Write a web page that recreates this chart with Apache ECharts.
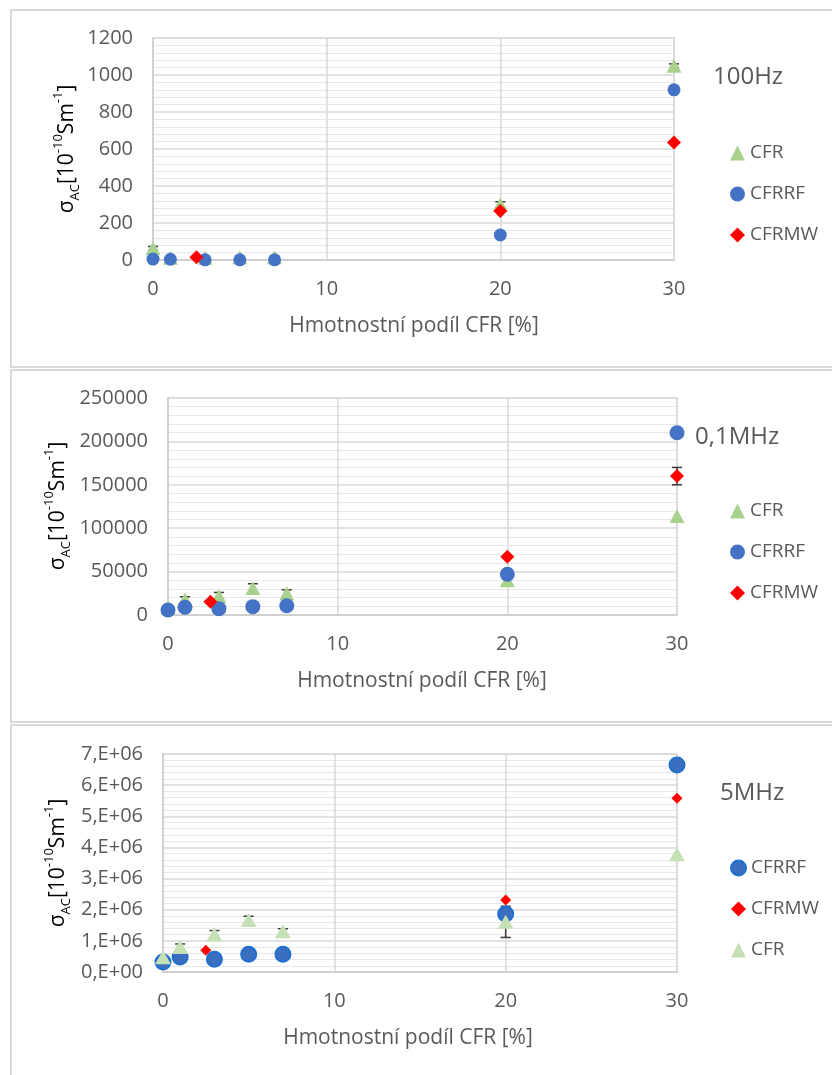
<!DOCTYPE html>
<html>
<head>
<meta charset="utf-8">
<script src="https://cdn.jsdelivr.net/npm/echarts@6/dist/echarts.min.js"></script>
<style>
  html, body { margin: 0; padding: 0; background: #fff; }
  #chart { width: 832px; height: 1075px; }
</style>
</head>
<body>
<div id="chart"></div>
<script>
// CFR mass fraction [%] for the CFR / CFRRF series and the CFRMW series
const xMain = [0, 1, 3, 5, 7, 20, 30];
const xMW = [2.5, 20, 30];

// 100 Hz
const hz100CFR = [63, 12, 12, 15, 15, 300, 1050];
const hz100CFRerr = [10, 0, 0, 0, 0, 15, 10];
const hz100RF = [5, 4, 1, 1, 1, 135, 920];
const hz100MW = [15, 265, 635];

// 0,1 MHz
const mhz01CFR = [8000, 18000, 22000, 31000, 25000, 40000, 114000];
const mhz01CFRerr = [0, 3000, 4000, 5000, 4000, 0, 0];
const mhz01RF = [5800, 8900, 7300, 9600, 10700, 47000, 210000];
const mhz01MW = [15300, 67000, 160000];
const mhz01MWerr = [0, 0, 10000];

// 5 MHz
const mhz5RF = [0.32e6, 0.48e6, 0.41e6, 0.57e6, 0.57e6, 1.86e6, 6.65e6];
const mhz5MW = [0.70e6, 2.31e6, 5.58e6];
const mhz5CFR = [0.47e6, 0.80e6, 1.21e6, 1.67e6, 1.31e6, 1.61e6, 3.78e6];
const mhz5CFRerr = [0, 0.1e6, 0.12e6, 0.12e6, 0.08e6, 0.5e6, 0];

// axis ranges / tick steps
const yMax = [1200, 250000, 7e6];
const yStep = [200, 50000, 1e6];
const panelLabels = ['100Hz', '0,1MHz', '5MHz'];

const FONT = 'Open Sans';
const TXT = '#595959';
const GREEN = '#a9d18e', GREEN_LIGHT = '#c5e0b4', BLUE = '#4472c4', RED = '#ff0000';

const pairs = (xs, ys) => xs.map((x, i) => [x, ys[i]]);
const errPairs = (xs, ys, es) => xs.map((x, i) => [x, ys[i], es[i]]).filter(d => d[2] > 0);

const grids = [
  { left: 153, top: 38, width: 521, height: 222 },
  { left: 168, top: 398, width: 509, height: 217 },
  { left: 163, top: 754, width: 514, height: 218 }
].map(g => Object.assign(g, { show: true, borderColor: '#d9d9d9', borderWidth: 1.5, backgroundColor: 'transparent' }));

const xAxes = grids.map((g, i) => ({
  type: 'value', gridIndex: i, min: 0, max: 30, interval: 10,
  axisLine: { show: true, lineStyle: { color: '#d0d0d0', width: 2 } },
  axisTick: { show: false },
  axisLabel: { color: TXT, fontFamily: FONT, fontSize: 20, margin: 19 },
  splitLine: { show: true, lineStyle: { color: '#d9d9d9', width: 1.5 } }
}));

const yAxes = grids.map((g, i) => ({
  type: 'value', gridIndex: i, min: 0, max: yMax[i], interval: yStep[i],
  axisLine: { show: true, lineStyle: { color: '#d0d0d0', width: 2 } },
  axisTick: { show: false },
  minorTick: { show: false, splitNumber: 5 },
  minorSplitLine: { show: true, lineStyle: { color: '#e8e8e8', width: 1 } },
  axisLabel: {
    color: TXT, fontFamily: FONT, fontSize: 20, margin: 20,
    formatter: i === 2 ? (v => (v === 0 ? '0,E+00' : (v / 1e6) + ',E+06')) : (v => String(v))
  },
  splitLine: { show: true, lineStyle: { color: '#d9d9d9', width: 1.5 } }
}));

function scatter(name, gi, data, symbol, size, color, extra) {
  return Object.assign({
    name, type: 'scatter', xAxisIndex: gi, yAxisIndex: gi, data,
    symbol, symbolSize: size, itemStyle: { color, opacity: 1 }, z: 3,
    emphasis: { disabled: true }, silent: true
  }, extra || {});
}

function errorBars(gi, data) {
  return {
    type: 'custom', xAxisIndex: gi, yAxisIndex: gi, data, z: 2, silent: true,
    renderItem: (params, api) => {
      const x = api.value(0), y = api.value(1), e = api.value(2);
      const top = api.coord([x, y + e]);
      const bot = api.coord([x, y - e]);
      const st = { stroke: '#3a3a3a', lineWidth: 1.5 };
      return {
        type: 'group',
        children: [
          { type: 'line', shape: { x1: top[0], y1: top[1], x2: bot[0], y2: bot[1] }, style: st },
          { type: 'line', shape: { x1: top[0] - 5, y1: top[1], x2: top[0] + 5, y2: top[1] }, style: st },
          { type: 'line', shape: { x1: bot[0] - 5, y1: bot[1], x2: bot[0] + 5, y2: bot[1] }, style: st }
        ]
      };
    }
  };
}

const series = [
  // 100 Hz
  errorBars(0, errPairs(xMain, hz100CFR, hz100CFRerr)),
  scatter('CFR', 0, pairs(xMain, hz100CFR), 'triangle', [15, 14], GREEN),
  scatter('CFRRF', 0, pairs(xMain, hz100RF), 'circle', 13, BLUE),
  scatter('CFRMW', 0, pairs(xMW, hz100MW), 'diamond', 14, RED),
  // 0,1 MHz
  errorBars(1, errPairs(xMain, mhz01CFR, mhz01CFRerr)),
  errorBars(1, errPairs(xMW, mhz01MW, mhz01MWerr)),
  scatter('CFR', 1, pairs(xMain, mhz01CFR), 'triangle', [15, 14], GREEN),
  scatter('CFRRF', 1, pairs(xMain, mhz01RF), 'circle', 15, BLUE),
  scatter('CFRMW', 1, pairs(xMW, mhz01MW), 'diamond', 14, RED, { z: 4 }),
  // 5 MHz
  errorBars(2, errPairs(xMain, mhz5CFR, mhz5CFRerr)),
  scatter('CFRRF', 2, pairs(xMain, mhz5RF), 'circle', 15, '#3a6fc0',
    { itemStyle: { color: '#3a6fc0', borderColor: '#1f6fd0', borderWidth: 2, opacity: 1 } }),
  scatter('CFRMW', 2, pairs(xMW, mhz5MW), 'diamond', 11, RED),
  scatter('CFR', 2, pairs(xMain, mhz5CFR), 'triangle', [16, 14], GREEN_LIGHT, { z: 4 })
];

const legendText = { color: TXT, fontFamily: FONT, fontSize: 19, lineHeight: 20 };
function legend(top, items) {
  return {
    orient: 'vertical', left: 725, top, itemWidth: 15, itemHeight: 15, itemGap: 21,
    selectedMode: false, textStyle: legendText, data: items
  };
}
const lgCFR = c => ({ name: 'CFR', icon: 'triangle', itemStyle: { color: c, borderWidth: 0 } });
const lgRF = (c, b) => ({ name: 'CFRRF', icon: 'circle', itemStyle: b ? { color: c, borderColor: b, borderWidth: 2 } : { color: c, borderWidth: 0 } });
const lgMW = () => ({ name: 'CFRMW', icon: 'diamond', itemStyle: { color: RED, borderWidth: 0 } });

const legends = [
  legend(138, [lgCFR(GREEN), lgRF(BLUE), lgMW()]),
  legend(496, [lgCFR(GREEN), lgRF(BLUE), lgMW()]),
  legend(853, [lgRF('#3a6fc0', '#1f6fd0'), lgMW(), lgCFR(GREEN_LIGHT)])
];

// y-axis title with subscript / superscripts
const yTitleRich = {
  m: { fontFamily: FONT, fontSize: 21, lineHeight: 30, color: TXT },
  s: { fontFamily: FONT, fontSize: 13, lineHeight: 14, verticalAlign: 'bottom', color: TXT },
  p: { fontFamily: FONT, fontSize: 13, lineHeight: 14, verticalAlign: 'top', color: TXT }
};
const yTitleText = '{m|σ}{s|AC}{m|[10}{p|-10}{m|Sm}{p|-1}{m|]}';

function yTitle(x, y) {
  return {
    type: 'text', x, y, rotation: Math.PI / 2, silent: true,
    style: { text: yTitleText, rich: yTitleRich, align: 'center', verticalAlign: 'middle' }
  };
}
function xTitle(x, y) {
  return {
    type: 'text', x, y, silent: true,
    style: { text: 'Hmotnostní podíl CFR [%]', fontFamily: FONT, fontSize: 21, fill: TXT, align: 'center', verticalAlign: 'middle' }
  };
}
function freqLabel(x, y, t) {
  return {
    type: 'text', x, y, silent: true,
    style: { text: t, fontFamily: FONT, fontSize: 24, fill: TXT, align: 'left', verticalAlign: 'middle' }
  };
}
function frame(y, h) {
  return {
    type: 'rect', silent: true, z: -10,
    shape: { x: 11, y, width: 900, height: h },
    style: { fill: null, stroke: '#d9d9d9', lineWidth: 2 }
  };
}

const graphic = [
  frame(10, 357), frame(370, 352), frame(725, 400),
  yTitle(67, 149), yTitle(58, 506), yTitle(58, 863),
  xTitle(414, 326), xTitle(422, 681), xTitle(408, 1038),
  freqLabel(713, 77, panelLabels[0]),
  freqLabel(695, 437, panelLabels[1]),
  freqLabel(720, 793, panelLabels[2])
];

const chart = echarts.init(document.getElementById('chart'), null, { renderer: 'canvas' });
chart.setOption({
  animation: false,
  backgroundColor: '#ffffff',
  grid: grids,
  xAxis: xAxes,
  yAxis: yAxes,
  legend: legends,
  series,
  graphic
});
</script>
</body>
</html>
